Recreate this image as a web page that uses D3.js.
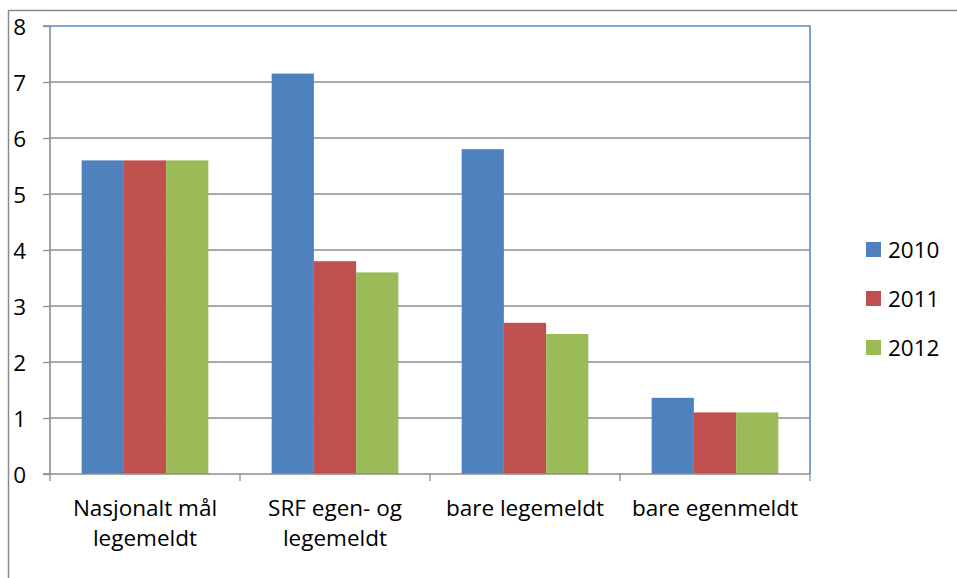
<!DOCTYPE html>
<html><head><meta charset="utf-8">
<script src="https://cdn.jsdelivr.net/npm/d3@7"></script>
<style>
html,body{margin:0;padding:0;background:#fff;}
text{font-family:"Open Sans","Noto Sans",sans-serif;fill:#000;}
</style></head>
<body>
<svg id="c" width="957" height="578"></svg>
<script>
const categories = [["Nasjonalt mål","legemeldt"],["SRF egen- og","legemeldt"],["bare legemeldt"],["bare egenmeldt"]];
const series = ["2010","2011","2012"];
const values2010 = [5.6, 7.15, 5.8, 1.36];
const values2011 = [5.6, 3.8, 2.7, 1.1];
const values2012 = [5.6, 3.6, 2.5, 1.1];
const yTicks = [0,1,2,3,4,5,6,7,8];
const colors = ["#4F81BD","#C0504D","#9BBB59"];

const allValues = [values2010, values2011, values2012];
const svg = d3.select("#c");
const L = 50, R = 810, T = 26, B = 474;

// outer frame (cropped chart border)
svg.append("path").attr("d","M8.5,578 V10.5 H957").attr("fill","none").attr("stroke","#8a8a8a").attr("stroke-width",1.5);

const catIdx = categories.map((d,i)=>i);
const x0 = d3.scaleBand().domain(catIdx).range([L,R]).paddingInner(0).paddingOuter(0);
const x1 = d3.scaleBand().domain(series).range([0,x0.bandwidth()]).paddingInner(0).paddingOuter(0.75);
const y = d3.scaleLinear().domain([0,8]).range([B,T]);

// gridlines
svg.append("g").selectAll("line").data(yTicks.filter(t=>t>0 && t<8)).join("line")
  .attr("x1",L).attr("x2",R).attr("y1",d=>y(d)).attr("y2",d=>y(d))
  .attr("stroke","#8c8c8c").attr("stroke-width",1.3);

// plot area border top + right (blue)
svg.append("path").attr("d",`M${L},${y(8)} H${R} V${B}`).attr("fill","none").attr("stroke","#5B8AC6").attr("stroke-width",1.6);

// bars
const g = svg.append("g");
series.forEach((s,si)=>{
  g.selectAll(null).data(allValues[si]).join("rect")
    .attr("x",(d,i)=>x0(i)+x1(s))
    .attr("width",x1.bandwidth())
    .attr("y",d=>y(d))
    .attr("height",d=>y(0)-y(d))
    .attr("fill",colors[si]);
});

// y axis
const ya = svg.append("g").attr("transform",`translate(${L},0)`)
  .call(d3.axisLeft(y).tickValues(yTicks).tickSize(7).tickPadding(17).tickFormat(d3.format("d")));
ya.select(".domain").attr("stroke","#8c8c8c").attr("stroke-width",1.6).attr("d",`M-7,${T}H0V${B}H-7`);
ya.selectAll(".tick line").attr("stroke","#8c8c8c").attr("stroke-width",1.3);
ya.selectAll(".tick text").style("font-size","22.5px").attr("fill","#000").attr("dy","0.36em");

// x axis line + ticks
const xa = svg.append("g");
xa.append("line").attr("x1",L).attr("x2",R).attr("y1",B).attr("y2",B).attr("stroke","#8c8c8c").attr("stroke-width",1.6);
const bounds = catIdx.map(i=>x0(i)).concat([R]);
xa.selectAll(".xt").data(bounds).join("line").attr("class","xt")
  .attr("x1",d=>d).attr("x2",d=>d).attr("y1",B).attr("y2",B+7)
  .attr("stroke","#8c8c8c").attr("stroke-width",1.3);

// category labels
xa.selectAll(".cl").data(categories).join("text").attr("class","cl")
  .attr("text-anchor","middle").style("font-size","22.5px")
  .each(function(d,i){
    const t = d3.select(this);
    d.forEach((line,li)=>{
      t.append("tspan").attr("x",x0(i)+x0.bandwidth()/2).attr("y",516+li*30).text(line);
    });
  });

// legend
const lg = svg.append("g");
series.forEach((s,si)=>{
  const yy = 242 + si*49;
  lg.append("rect").attr("x",866).attr("y",yy).attr("width",15).attr("height",15).attr("fill",colors[si]);
  lg.append("text").attr("x",888).attr("y",yy+16).style("font-size","22.5px").text(s);
});
</script>
</body></html>
